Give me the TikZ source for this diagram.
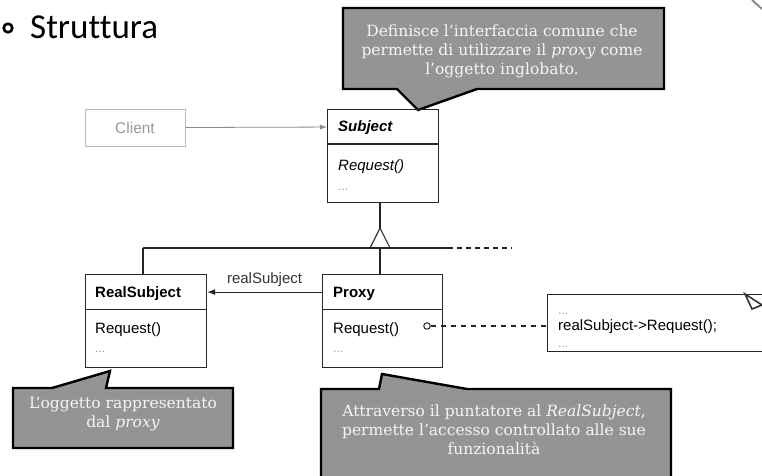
\documentclass[tikz,border=0pt]{standalone}
\usepackage{fontspec}
\setmainfont{DejaVu Serif}
\setsansfont{Liberation Sans}
\newfontfamily\titlefont[Ligatures=CommonOff]{Carlito}
\usetikzlibrary{arrows.meta}
\begin{document}
\begin{tikzpicture}[x=1pt,y=-1pt,
  umlline/.style={draw=black!85, line width=1.1pt},
  umlhead/.style={umlline, anchor=north west, minimum height=35, inner sep=0},
  umlbody/.style={umlline, anchor=north west, inner sep=0},
  umltext/.style={font=\sffamily\fontsize{15}{17}\selectfont, anchor=base west, inner sep=0},
  dots/.style={font=\sffamily\fontsize{12}{12}\selectfont, text=black!40, anchor=base west, inner sep=0},
  callout/.style={draw=black, line width=2.4pt, fill=black!42, line join=miter},
  callouttext/.style={text=white!96!black, font=\fontsize{15.5}{19}\selectfont, align=center},
]
\useasboundingbox (0,0) rectangle (762,475);
\clip (0,0) rectangle (762,475);

% title
\draw[line width=2.6pt] (8,28) coordinate (bul) circle (4.3);
\node[anchor=base west, inner sep=0, font=\titlefont\fontsize{35}{38}\selectfont] (title) at (30,38) {Struttura};

% top callout
\draw[callout] (343,8) -- (664,8) -- (664,89) -- (477,89) -- (418,110) -- (397,89) -- (343,89) -- cycle;
\node[callouttext] (c1) at (502,51) {Definisce l’interfaccia comune che\\permette di utilizzare il \textit{proxy} come\\l’oggetto inglobato.};

% Client
\node[draw=black!28, line width=0.8pt, minimum width=100, minimum height=37, inner sep=0,
      font=\sffamily\fontsize{15.5}{17}\selectfont, text=black!40] (client) at (135,127.5) {Client};

% Subject
\node[umlhead, minimum width=111] (subjhead) at (327,109) {};
\node[umlbody, minimum width=111, minimum height=59] (subjbody) at (327,143) {};
\node[umltext, font=\sffamily\bfseries\itshape\fontsize{15}{17}\selectfont] (subjname) at (338,131) {Subject};
\node[umltext, font=\sffamily\itshape\fontsize{15}{17}\selectfont] (subjreq) at (338,170) {Request()};
\node[dots] (subjdots) at (338,190) {...};

% RealSubject
\node[umlhead, minimum width=121] (realhead) at (85,274) {};
\node[umlbody, minimum width=121, minimum height=58] (realbody) at (85,309) {};
\node[umltext, font=\sffamily\bfseries\fontsize{15}{17}\selectfont] (realname) at (95,297) {RealSubject};
\node[umltext] (realreq) at (95,333) {Request()};
\node[dots] (realdots) at (95,352) {...};

% Proxy
\node[umlhead, minimum width=120] (proxhead) at (322,274) {};
\node[umlbody, minimum width=120, minimum height=58] (proxbody) at (322,309) {};
\node[umltext, font=\sffamily\bfseries\fontsize{15}{17}\selectfont] (proxname) at (333,297) {Proxy};
\node[umltext] (proxreq) at (333,333) {Request()};
\node[dots] (proxdots) at (333,352) {...};

% client -> subject
\draw[black!45, line width=0.8pt, -{Latex[length=7,width=5]}] (client.east) -- (subjhead.west);

% inheritance
\coordinate (apex) at (380,228);
\coordinate (tbl) at (370,248);
\coordinate (tbr) at (390,248);
\coordinate (hl) at (143,248);
\coordinate (hs) at (448,248);
\coordinate (he) at (512,248);
\draw[umlline] (apex |- subjbody.south) -- (apex);
\draw[umlline, fill=white] (apex) -- (tbl) -- (tbr) -- cycle;
\draw[umlline] (hl) -- (hs);
\draw[umlline, dash pattern=on 5pt off 4pt] (hs) -- (he);
\draw[umlline] (hl) -- (hl |- realhead.north);
\draw[umlline] (apex |- tbl) -- (apex |- proxhead.north);

% association
\draw[umlline, -{Latex[length=8,width=6]}] (proxhead.west) -- (realhead.east)
  node[midway, above=2pt, font=\sffamily\fontsize{15}{17}\selectfont, text=black!80] (lab) {realSubject};

% note
\node[umlline, anchor=north west, minimum width=230, minimum height=57, inner sep=0] (note) at (547,294) {};
\node[dots] (nd1) at (558,314) {...};
\node[umltext] (ntext) at (558,330) {realSubject->Request();};
\node[dots] (nd2) at (558,347) {...};
\draw[line width=1.6pt, draw=black!80, fill=white, line join=miter] (745,294) -- (752,309) -- (762,305) -- cycle;
\node[draw=black!85, line width=1pt, circle, inner sep=0, minimum size=6.5] (pcirc) at (427,326) {};
\draw[umlline, dash pattern=on 5pt off 5pt] (pcirc.east) -- (pcirc -| note.west);

% bottom-left callout
\draw[callout] (13,388) -- (52,388) -- (110,371) -- (106,388) -- (233,388) -- (233,448) -- (13,448) -- cycle;
\node[callouttext] (c2) at (123,414) {L’oggetto rappresentato\\dal \textit{proxy}};

% bottom-right callout
\draw[callout] (321,389) -- (379,389) -- (382,374) -- (467,389) -- (671,389) -- (671,490) -- (321,490) -- cycle;
\node[callouttext] (c3) at (494,430) {Attraverso il puntatore al \textit{RealSubject},\\permette l’accesso controllato alle sue\\funzionalità};

% corner fragment
\draw[black!45, line width=2pt] (752,0) -- (762,9);
\end{tikzpicture}
\end{document}
